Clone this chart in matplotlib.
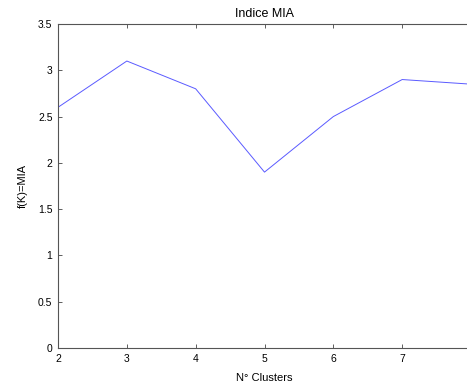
import matplotlib
matplotlib.use('Agg')
import matplotlib.pyplot as plt

clusters = [2, 3, 4, 5, 6, 7, 8]
mia = [2.6, 3.1, 2.8, 1.9, 2.5, 2.9, 2.85]
xticks = [2, 3, 4, 5, 6, 7]
yticks = [0, 0.5, 1, 1.5, 2, 2.5, 3, 3.5]

plt.rcParams['font.family'] = ['Liberation Sans', 'DejaVu Sans']

fig = plt.figure(figsize=(4.67, 3.84), dpi=100)
ax = fig.add_axes([58 / 467, 36 / 384, 413 / 467, 324 / 384])
ax.plot(clusters, mia, color='#5a5aff', linewidth=0.7)

ax.set_xlim(2, 8)
ax.set_ylim(0, 3.5)
ax.set_xticks(xticks)
ax.set_yticks(yticks)
ax.set_yticklabels(['0', '0.5', '1', '1.5', '2', '2.5', '3', '3.5'])
ax.tick_params(direction='in', length=3, width=0.6, colors='#444444',
               labelsize=7.5, labelcolor='black', top=True, right=True, pad=4)
for s in ax.spines.values():
    s.set_linewidth(0.8)
    s.set_color('#555555')

ax.set_title('Indice MIA', fontsize=9, pad=5)
ax.set_xlabel('N° Clusters', fontsize=8, labelpad=7)
ax.set_ylabel('f(K)=MIA', fontsize=8, labelpad=7)

fig.savefig('out.png', dpi=100)
